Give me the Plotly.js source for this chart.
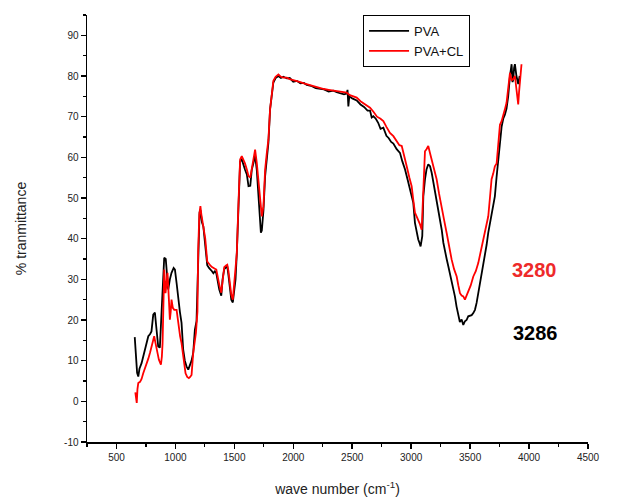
<!DOCTYPE html>
<html>
<head>
<meta charset="utf-8">
<script src="https://cdn.plot.ly/plotly-3.0.1.min.js"></script>
<style>html,body{margin:0;padding:0;background:#fff;}#chart{width:630px;height:498px;}</style>
</head>
<body>
<div id="chart"></div>
<script>
// PVA (black) spectrum
const pvaX = [655,668,675,685,695,713,727,741,755,770,784,797,812,826,840,854,868,882,895,905,918,930,939,953,967,985,996,1010,1024,1038,1052,1066,1080,1094,1109,1123,1137,1151,1165,1179,1193,1205,1212,1225,1237,1253,1270,1285,1296,1310,1322,1335,1347,1360,1372,1389,1400,1414,1430,1440,1450,1460,1474,1487,1499,1510,1521,1535,1549,1563,1577,1590,1606,1620,1635,1648,1662,1676,1690,1705,1719,1725,1733,1747,1761,1775,1789,1803,1818,1831,1850,1874,1895,1916,1945,1970,2000,2030,2060,2090,2114,2150,2190,2227,2260,2300,2340,2369,2400,2430,2453,2460,2467,2475,2500,2538,2570,2600,2630,2651,2665,2679,2700,2720,2740,2764,2790,2810,2830,2849,2877,2905,2925,2948,2970,2990,3005,3018,3032,3046,3060,3070,3080,3094,3103,3117,3130,3145,3160,3174,3188,3202,3216,3230,3245,3259,3273,3287,3301,3315,3329,3343,3357,3371,3385,3399,3413,3428,3442,3456,3470,3484,3500,3513,3527,3541,3555,3569,3583,3598,3612,3626,3640,3654,3668,3682,3696,3710,3724,3738,3753,3767,3781,3795,3809,3823,3838,3845,3852,3860,3866,3873,3880,3893,3908,3920];
const pvaY = [15.8,9,7,6.1,8,9.4,11,13.1,14,16,16.5,17.2,21.3,21.8,17.6,13.5,13.2,20.9,30,35.3,35,29,27.5,30,31.6,32.8,32.4,29.1,25,22,19.3,12.7,10,8.6,7.8,9,10,11.9,17.6,19.7,36,46.5,47,44,43,39,33.5,32.8,32.5,32,31.5,32,31.5,29,27.5,26,30,32.5,33,33.2,31,28,25,24.3,27,30,36.5,48.8,59,59.5,57.8,57,55.8,52.9,53,57,58.6,60.5,57,50,44,41.5,42,47,55.4,60,63.6,71.8,75,78.4,79.5,80,79.5,79.8,79.4,79.5,78.6,78.8,78.2,78.3,77.8,77.6,77,76.8,76.7,76.2,76.4,76,75.8,75.5,75.7,76.6,72.5,75,74.5,74,73,72.4,71.5,71.5,69.8,70.1,69.5,68.5,67,67.3,65.3,64.7,63.8,63.4,62,61.1,59,57,54.5,52.1,50.5,48.8,43.9,41.5,39.8,39,38.1,40.6,50.4,54.6,57,58.3,57.8,56.2,54,52.1,49.5,47.2,44.5,42.2,39,36.5,35,33.2,31.5,29.9,27.5,25.8,23.3,20.9,19.5,20.1,18.8,19.7,20,20.9,21,21.2,21.7,22.5,24.2,26.5,29.1,31,33,35.7,38.5,41.5,43.9,46.5,48.5,50.4,55,58.7,63,67.5,69.5,70.5,72,75,80,82.5,82.9,78.5,79.2,82,82.9,80,78,80];

// PVA+CL (red) spectrum
const pvaclX = [660,668,672,678,685,700,713,727,741,755,770,784,803,820,830,840,850,860,877,885,891,898,905,910,916,925,933,943,953,960,967,978,990,1010,1020,1030,1040,1052,1066,1076,1086,1100,1114,1125,1137,1151,1165,1174,1187,1193,1203,1212,1220,1237,1253,1270,1285,1296,1310,1322,1335,1347,1360,1372,1389,1400,1414,1430,1440,1450,1457,1466,1474,1487,1499,1510,1521,1535,1549,1563,1577,1590,1606,1620,1635,1648,1662,1676,1690,1705,1719,1733,1747,1761,1775,1789,1803,1818,1831,1850,1874,1895,1916,1945,1970,2000,2030,2060,2090,2114,2150,2190,2227,2260,2300,2340,2369,2400,2430,2453,2480,2510,2538,2570,2600,2630,2651,2680,2710,2740,2764,2790,2820,2849,2877,2900,2920,2940,2962,2985,3004,3018,3032,3046,3060,3075,3089,3096,3103,3117,3130,3145,3160,3174,3195,3216,3237,3259,3280,3301,3322,3343,3364,3386,3400,3414,3428,3442,3456,3470,3484,3505,3527,3548,3569,3590,3612,3633,3654,3668,3682,3696,3710,3725,3738,3753,3767,3781,3795,3809,3823,3838,3852,3866,3880,3895,3908,3915,3922,3936];
const pvaclY = [2.2,0.5,-0.4,3,4.5,4.8,5.5,6.9,8,9,10.5,11.9,13.9,16,14.5,12.7,11,10.2,9,11,14.3,25,32.4,30,26.6,29,31.6,26,20.1,22,25,23,22.5,22.5,20,17.6,16,14.3,11,8.5,6.9,6,5.7,6,6.5,11.9,15,16.8,22.1,37,46,48,46,43,40,34.4,33.6,33.4,33,32.9,32.6,32.4,30,28.7,26.7,30,33,33.4,33.6,32,29.9,27,26.2,25,28.7,33,36.5,48.8,59.5,60.3,59.5,58.5,57,55.4,55,57.5,59.5,61.9,58.7,54,48.8,45.5,48,57,61,64.4,71.8,75.5,78.8,79.8,80.4,79.8,79.6,79.6,79.2,79,78.8,78.5,78.2,78,77.6,77.3,77.1,76.8,76.6,76.4,76.3,76,75.9,75.9,75.3,75,74.7,73.8,73.2,72.6,72.2,71.2,70,69.5,68.9,67.5,66,65.2,64,63,62.8,60,57.8,55,52.9,49.5,46.4,45.5,44.7,43.5,42.2,48,54.6,61.5,62,62.8,61,59.5,57,54.6,51,48,44.5,41.4,38,34.9,32.5,30.7,28.5,26.6,26,25.8,25,26,26.6,28.5,30.7,32,34,37,39.8,42.5,45.5,50,54.6,56,57.8,58.5,64,68,68.9,70.1,71.8,73.4,76.7,80.8,79,79.2,80,76,73,76,79.2,82.9];

const seriesNames = ["PVA", "PVA+CL"];
const peakLabels = ["3280", "3286"];
const yTickVals = [-10, 0, 10, 20, 30, 40, 50, 60, 70, 80, 90];
const yTickText = ["-10", "0", "10", "20", "30", "40", "50", "60", "70", "80", "90"];

const traces = [
  {x: pvaX, y: pvaY, type: "scatter", mode: "lines", name: seriesNames[0],
   line: {color: "#000000", width: 1.8}},
  {x: pvaclX, y: pvaclY, type: "scatter", mode: "lines", name: seriesNames[1],
   line: {color: "#ff0000", width: 1.8}}
];

const fam = "Liberation Sans, Arial, sans-serif";
const tickFont = {family: fam, size: 10, color: "#222"};

const layout = {
  width: 630, height: 498,
  margin: {l: 87, r: 42, t: 15, b: 56},
  paper_bgcolor: "#ffffff", plot_bgcolor: "#ffffff",
  showlegend: true,
  legend: {
    x: 0.551, y: 1, xanchor: "left", yanchor: "top",
    bordercolor: "#000", borderwidth: 1, bgcolor: "#ffffff",
    font: {family: fam, size: 13, color: "#111"},
    tracegroupgap: 0, itemwidth: 40
  },
  xaxis: {
    range: [250, 4500], tick0: 500, dtick: 500,
    showline: true, linecolor: "#000", linewidth: 1.5, mirror: false,
    ticks: "outside", ticklen: 5, tickwidth: 1.5, tickcolor: "#000",
    minor: {dtick: 250, tick0: 250, ticks: "outside", ticklen: 3, tickwidth: 1.2, tickcolor: "#000"},
    showgrid: false, zeroline: false, tickfont: tickFont,
    title: {text: "wave number (cm<sup>-1</sup>)", standoff: 22,
            font: {family: fam, size: 14, color: "#222"}}
  },
  yaxis: {
    range: [-10, 95], tickmode: "array", tickvals: yTickVals, ticktext: yTickText,
    showline: true, linecolor: "#000", linewidth: 1.5, mirror: false,
    ticks: "outside", ticklen: 5, tickwidth: 1.5, tickcolor: "#000",
    minor: {dtick: 5, tick0: 0, ticks: "outside", ticklen: 3, tickwidth: 1.2, tickcolor: "#000"},
    showgrid: false, zeroline: false, tickfont: tickFont,
    title: {text: "% tranmittance", standoff: 34,
            font: {family: fam, size: 14, color: "#222"}}
  },
  annotations: [
    {x: 4049, y: 32.4, xref: "x", yref: "y", text: "<b>" + peakLabels[0] + "</b>", showarrow: false,
     font: {family: fam, size: 20, color: "#ee2a2a"}},
    {x: 4055, y: 16.9, xref: "x", yref: "y", text: "<b>" + peakLabels[1] + "</b>", showarrow: false,
     font: {family: fam, size: 20, color: "#000"}}
  ]
};

Plotly.newPlot("chart", traces, layout, {displayModeBar: false, staticPlot: true});
</script>
</body>
</html>
